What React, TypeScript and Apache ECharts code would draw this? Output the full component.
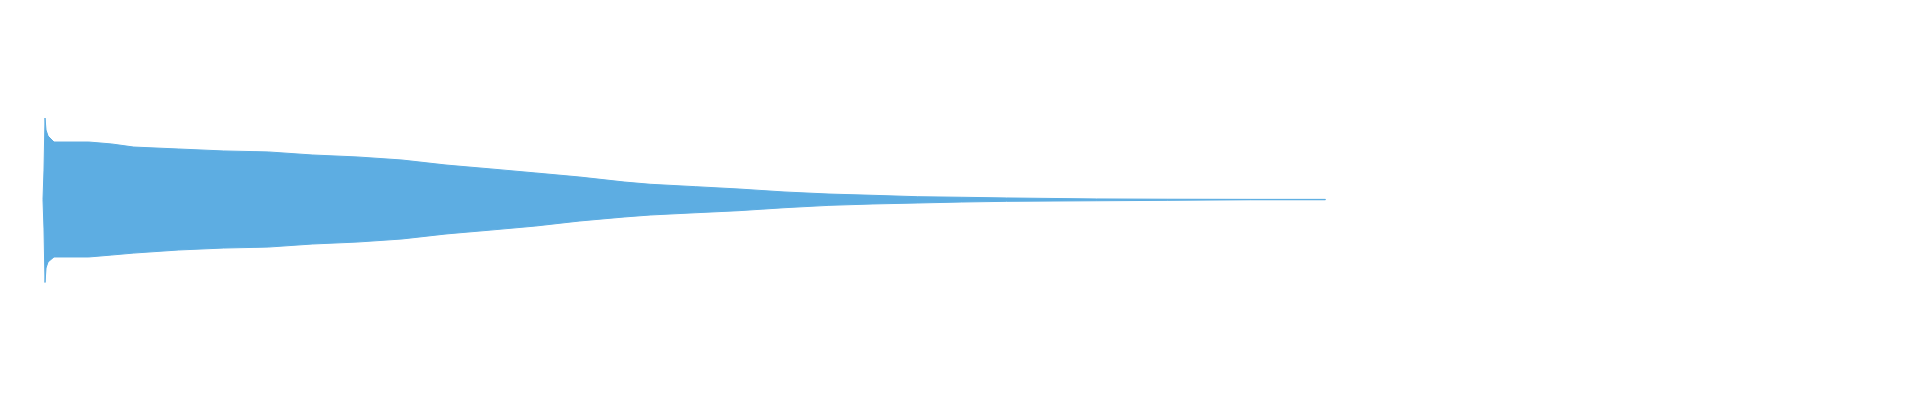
import React, { useEffect, useRef } from "react";
import * as echarts from "echarts";

// time (s) of each envelope reading
const times = [
  0, 0.0011, 0.0022, 0.0033, 0.0055, 0.012, 0.05, 0.075, 0.099, 0.148, 0.197,
  0.246, 0.294, 0.343, 0.392, 0.44, 0.489, 0.538, 0.586, 0.635, 0.663, 0.712,
  0.76, 0.809, 0.858, 0.906, 0.955, 1.003, 1.052, 1.15, 1.228, 1.318, 1.4,
];

// positive peaks of the waveform
const upperPeaks = [
  0, 0.211, 0.584, 0.498, 0.455, 0.412, 0.412, 0.398, 0.376, 0.362, 0.348,
  0.341, 0.319, 0.305, 0.283, 0.247, 0.219, 0.19, 0.161, 0.125, 0.109, 0.092,
  0.075, 0.054, 0.039, 0.03, 0.02, 0.016, 0.011, 0.004, 0.002, 0.001, 0.001,
];

// negative peaks of the waveform
const lowerPeaks = [
  0, -0.211, -0.595, -0.491, -0.448, -0.412, -0.412, -0.398, -0.384, -0.362,
  -0.348, -0.341, -0.319, -0.305, -0.283, -0.247, -0.219, -0.19, -0.154,
  -0.125, -0.111, -0.095, -0.08, -0.059, -0.042, -0.032, -0.025, -0.018,
  -0.013, -0.009, -0.006, -0.002, -0.002,
];

const waveColor = "#5DADE2";

const App: React.FC = () => {
  const chartRef = useRef<HTMLDivElement>(null);

  useEffect(() => {
    document.body.style.margin = "0";
    const chart = echarts.init(chartRef.current!, undefined, {
      renderer: "svg",
    });

    chart.setOption({
      animation: false,
      grid: { left: 43, right: 45, top: 60, bottom: 61 },
      xAxis: { type: "value", min: 0, max: 2, show: false },
      yAxis: { type: "value", min: -1, max: 1, show: false },
      series: [
        {
          // one filled band: upper peaks left to right, lower peaks back
          name: "waveform",
          type: "custom",
          silent: true,
          data: [[0, 0]],
          renderItem: (_params: any, api: any) => {
            const top = times.map((t, i) => api.coord([t, upperPeaks[i]]));
            const bottom = times
              .map((t, i) => api.coord([t, lowerPeaks[i]]))
              .reverse();
            return {
              type: "polygon",
              shape: { points: [...top, ...bottom] },
              style: { fill: waveColor, stroke: waveColor, lineWidth: 1 },
            };
          },
        },
      ],
    });

    return () => {
      chart.dispose();
    };
  }, []);

  return <div ref={chartRef} style={{ width: "1920px", height: "400px" }}></div>;
};

export default App;
